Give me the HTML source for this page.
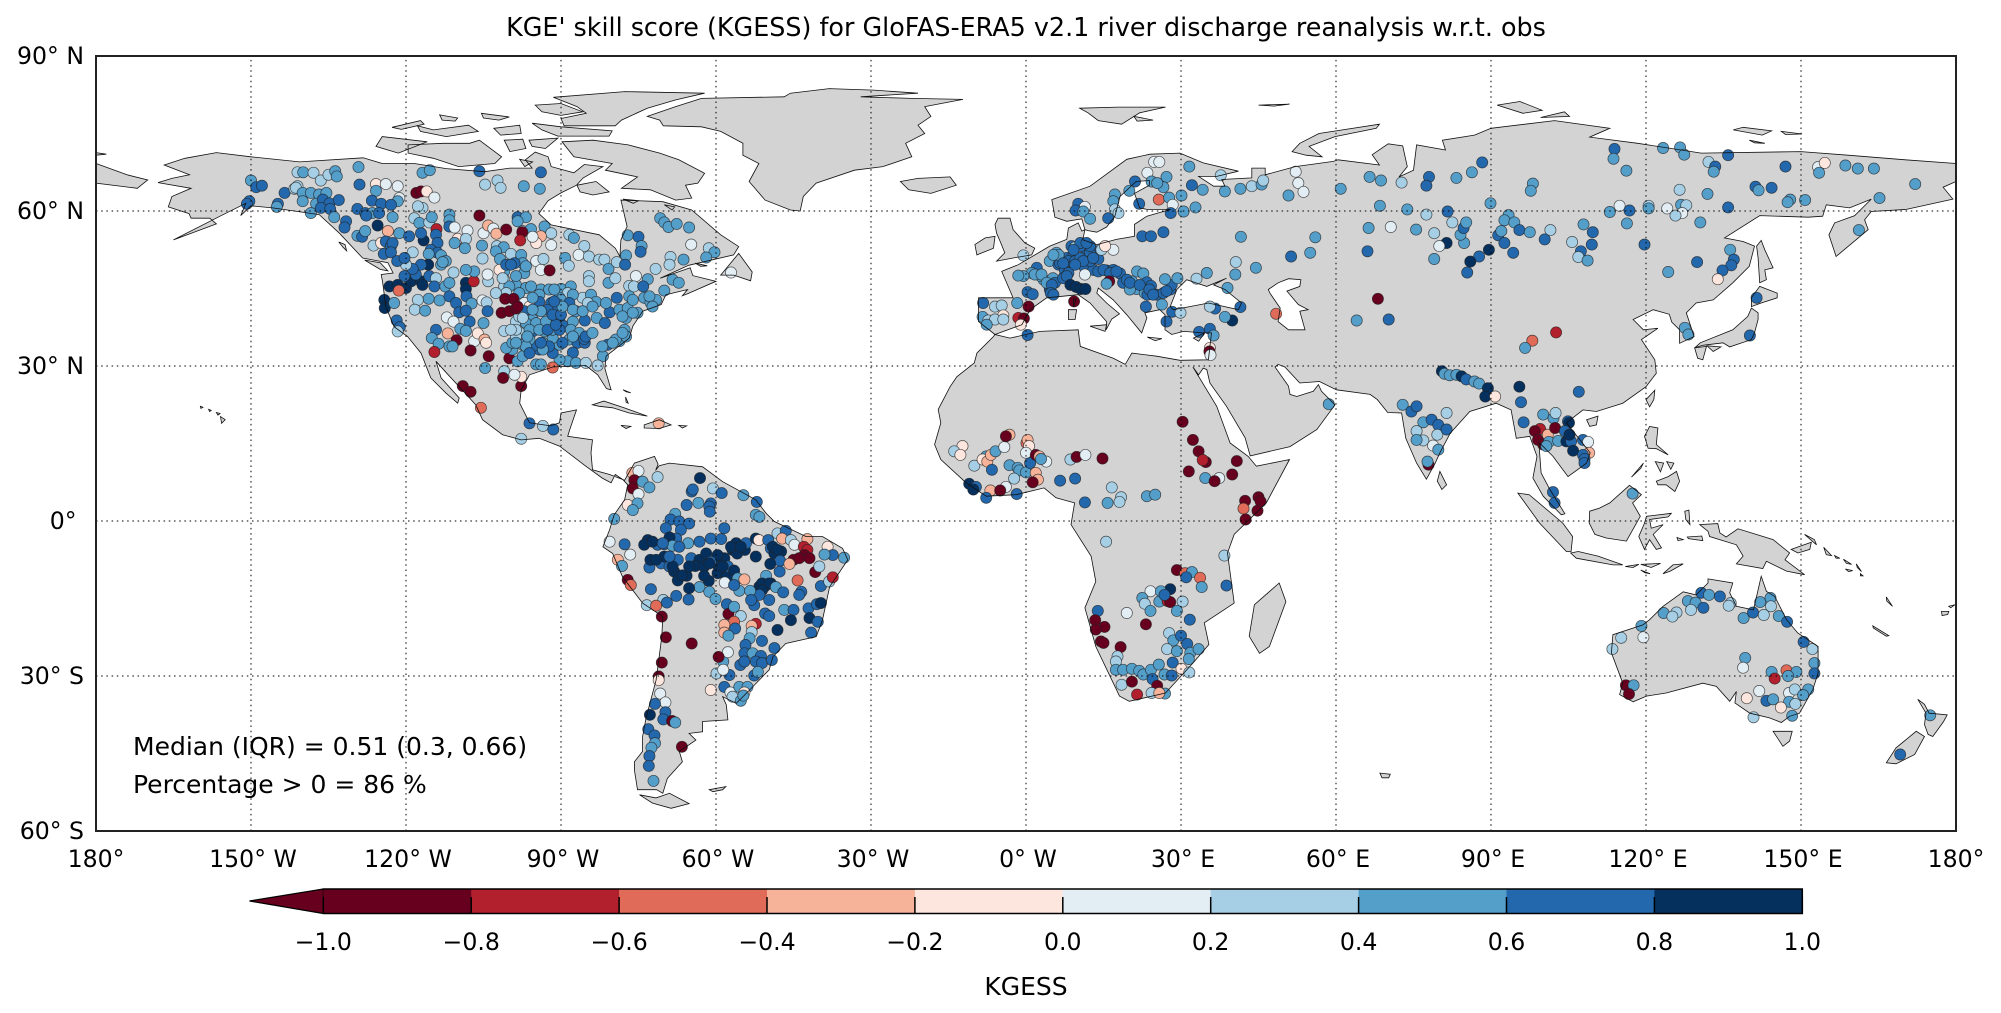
<!DOCTYPE html>
<html lang="en"><head><meta charset="utf-8"><title>KGESS map</title>
<style>html,body{margin:0;padding:0;background:#fff}svg{display:block}text{font-family:"DejaVu Sans","Liberation Sans",sans-serif;fill:#000}</style>
</head><body>
<svg id="chart" xmlns="http://www.w3.org/2000/svg" width="2001" height="1013" viewBox="0 0 2001 1013">
<rect width="2001" height="1013" fill="#fff"/>
<text x="1026" y="36" text-anchor="middle" font-size="25.4">KGE' skill score (KGESS) for GloFAS-ERA5 v2.1 river discharge reanalysis w.r.t. obs</text>
<g id="landFill" fill="#d3d3d3"></g>
<g id="waterFill" fill="#fff"></g>
<g id="islandFill" fill="#d3d3d3"></g>
<g id="stationsLayer"></g>
<g id="coastLayer" fill="none" stroke="#111" stroke-width="0.8"></g>
<g id="gridLayer" stroke="#000" stroke-width="1" stroke-dasharray="1.5 3.7"></g>
<rect x="96" y="56" width="1860" height="775" fill="none" stroke="#222" stroke-width="2"/>
<g id="tickLabels" font-size="23.6"></g>
<text x="133" y="755" font-size="25">Median (IQR) = 0.51 (0.3, 0.66)</text>
<text x="133" y="793" font-size="25">Percentage &gt; 0 = 86 %</text>
<g id="colorbar"></g>
<text x="1026" y="995" text-anchor="middle" font-size="25">KGESS</text>
</svg>
<script>
const lonTicks=[-180,-150,-120,-90,-60,-30,0,30,60,90,120,150,180];
const lonLabels=['180°','150° W','120° W','90° W','60° W','30° W','0° W','30° E','60° E','90° E','120° E','150° E','180°'];
const latTicks=[90,60,30,0,-30,-60];
const latLabels=['90° N','60° N','30° N','0°\u00a0','30° S','60° S'];
const cbarTicks=[-1,-0.8,-0.6,-0.4,-0.2,0,0.2,0.4,0.6,0.8,1];
const cbarLabels=['\u22121.0','\u22120.8','\u22120.6','\u22120.4','\u22120.2','0.0','0.2','0.4','0.6','0.8','1.0'];
const cbarColors=['#67001f','#b21f2d','#e06b59','#f6b39a','#fce6de','#e3eef4','#a6cfe5','#549eca','#2368ac','#05305e'];

const americas=[-165,54.4,-156.7,57.5,-158,58.6,-161.6,58.6,-162,59.5,-166,60.8,-165.3,62.8,-161.6,64.4,-168,65.5,-165.3,66.3,-161.9,67,-166.8,68.9,-162.8,70.2,-156.7,71.3,-150,70.5,-140.6,69.5,-128.3,70.3,-124.6,69.2,-118.4,69.2,-112.2,68.2,-104.8,67.6,-99.9,68.3,-95.6,68.3,-96.9,69.9,-95,71.4,-92.5,70.5,-91.9,68.6,-87.5,67.4,-85.5,69,-81.9,68.6,-85.7,66.4,-87,65,-90,63.5,-92.5,62,-94.3,59.5,-91.9,57.3,-82.6,55.4,-79.5,52.8,-78.6,51.2,-78.4,54.4,-77.2,57,-78.4,62.1,-70.3,61.8,-64.7,60.2,-59.1,55.4,-55.6,53.1,-56.6,51.5,-65.3,49.5,-70.8,47,-65,49,-64.5,47.5,-60,46.4,-65.5,44,-66.5,43.6,-65.5,44.8,-69.7,43.8,-70.6,41.9,-74.2,40.6,-76.1,37.7,-76.8,35.4,-81.3,31.9,-81.5,29.5,-80.3,25.4,-81.2,25.6,-82.9,28.3,-85.2,30.1,-91.6,29.8,-96.1,28.3,-97.7,25.4,-98,22.8,-96.1,19,-92,18.4,-90.3,19,-90,20.9,-87,21.5,-88.3,17.7,-88.7,16.4,-83.9,15.7,-84.2,13.2,-83.9,9.9,-80.6,9,-77.7,7.9,-75.8,11.2,-71.9,12.5,-71.2,11,-71.7,9.8,-71,10.7,-69,11.2,-62.6,10.5,-58.7,7.6,-52.3,4.1,-50.3,1.5,-48.7,-.1,-42.6,-3,-39.4,-3,-35.5,-5.3,-34.5,-7.5,-38,-12.7,-39.4,-19.2,-40.6,-22.4,-46.5,-23.7,-49,-26.3,-49.7,-28.8,-53.5,-32.7,-56.1,-35.3,-58.7,-34,-58,-35.6,-57.7,-38.5,-62.6,-38.8,-62.6,-40.8,-65.2,-41.1,-63.9,-42.4,-67.1,-44.6,-66.5,-46.6,-69.4,-49.8,-70.3,-52.7,-71.5,-52,-75.2,-52,-75.8,-48.2,-75.8,-46.6,-74.2,-44.6,-74.2,-41.7,-73.5,-37.9,-71.6,-30.8,-70.5,-22.4,-70.3,-18.5,-74.2,-15.9,-78.1,-10.8,-80,-6.3,-81.9,-5,-80.6,-1.7,-79.7,1.2,-77.7,4.1,-77.1,7,-78,8,-79.5,9,-80.3,7.4,-82,8.3,-85.2,10.6,-90.3,14.5,-94.2,16,-97.7,15.7,-101.3,16.7,-105.2,19.6,-106.5,22.5,-109.7,26,-112.3,28.8,-114.2,30.9,-113.2,27.7,-109.7,23.8,-110,22.8,-112.3,24.8,-115.2,27.7,-117.1,32.5,-119.7,35.7,-122.3,37.6,-123.9,41.5,-124.5,46,-124.8,47.7,-122.5,48,-123.5,50,-128.4,50.9,-132.9,55.7,-136.8,59.3,-145.8,60.6,-150,61,-152,59.1,-151,61.5,-156,59];
const afroEurasia=[-6,36.1,-9.2,38.6,-9.2,43.2,-2.5,43.2,-4.7,48.3,-1.5,49.6,4.6,53.2,7.9,54.5,8.2,56.7,10.1,57.7,10.8,56.1,11.4,56.4,10.8,58.5,7.9,58,5.6,58.8,5,62.2,12.4,64.8,19.5,70,24,71,29.8,71.2,34.3,69.3,41.1,67.7,36.9,66.7,33.4,66.7,36.3,64.8,38.5,64.8,37.9,66.1,43.7,66.4,43.7,68.3,46.3,68.3,46.3,67,52.1,68.6,59.5,69.6,60.4,69.9,68.4,68.9,67,70.9,70.1,73,72.9,72.6,73.8,68.6,72.2,66.6,75,67.9,75.6,72.8,81.2,71.8,80.6,73.7,86.8,74.7,90,76,102.3,77.5,113,76,109.1,74.3,118.4,73.1,130.7,71.2,150,71.5,159.1,70.8,170.2,69.9,180,69.2,180,65.7,177.5,64.6,179.4,62.3,170.4,60.3,163.6,59.9,162.3,58.3,163,56.4,156.8,51.2,155.4,55.4,156.5,57.7,160.4,59.1,163.6,62.3,159.4,60.6,154.9,61.2,154.2,59,151.4,58.8,142,59.1,135.2,54.8,138.8,54.1,141,53.2,140,49.3,136.8,46.1,133,42.8,129.7,42.2,127.8,40.3,129.3,35.7,126.5,34.4,126.5,37,125,38.5,124.5,40,121.4,40.9,117.5,39,119.5,37,122.3,37.3,119.1,35.1,121.7,31.2,122,28.6,120,26,115.5,22.8,110.4,21.2,107.8,21.5,104.6,19,109.2,13.2,108.5,11.2,104.9,8.6,102,12.5,99.4,15.1,99.4,13.2,99.7,9.3,101.4,6.1,104.3,1.4,103.6,1.2,100.1,4.8,98.1,8.3,98.9,12.5,97.5,16.4,94.9,16,93.9,21.5,91,22.8,85.9,21.2,82.1,17,80.1,13.2,79.2,11.2,77.5,8.1,75.6,11.2,73.5,16,72.7,20.9,70,21,68,23.5,66.6,24.5,60.1,25.4,56.8,27,53,26.7,50.1,29.8,48.8,30.3,48.2,29.8,50.8,26.1,51.1,24.5,52.4,24.1,55.6,25.1,56.6,26.4,57.2,25.1,59.8,22.5,56.3,17.7,51.1,14.4,43.4,12.6,42.4,16.1,38.8,22.2,35.6,26.7,35,29.3,34.3,29.6,33.4,28.3,32.3,29.8,36.9,22.2,39.5,15.1,43,12.5,44.6,10.6,51,11.9,46.5,3.5,40.3,-2.6,39,-6.2,40.3,-15.9,34.5,-19.7,35.4,-23.9,32.3,-27.5,27,-33.3,20,-34.9,18.1,-33.9,13.5,-24.3,11.4,-16.8,13.5,-11.7,12.6,-6.8,8.7,-.7,9.4,3.5,5.8,4.5,3.5,6.4,-1.9,5.1,-7.7,4.8,-11.6,7.4,-16.5,11.9,-17.7,14.8,-16.5,19,-17,21.6,-14.7,26,-13.4,27.9,-10,30.6,-9.5,32.5,-6.3,35.7];
const australia=[132,-11.2,136.8,-12,136.2,-13.9,137.5,-16.5,140.8,-17.2,142.3,-10.7,143.3,-13.6,144.9,-14.6,147.2,-19.1,149.4,-21.7,153.3,-24.3,153.3,-29.4,152.3,-32.6,149.7,-37.2,147.8,-37.8,146.2,-39,143.9,-38.1,140.1,-37.2,137.2,-35.2,137.5,-33,136.2,-34.9,133.6,-32,131,-31.4,123.9,-33.3,120.1,-33.9,117.5,-35,114.9,-33.6,115.5,-31.4,113.3,-25.5,113.6,-22,119.4,-20.1,120.7,-19.1,123.3,-16.5,127.2,-13.7,129.7,-14.3,132,-12];
const greenland=[-73.3,78.3,-67.8,80.2,-62.8,81.8,-46.8,82.1,-45.6,82.8,-38.1,83.7,-29.5,83.4,-20.9,82.8,-32,82.1,-22.1,81.8,-12.2,81.6,-19.6,80.2,-18.4,78.3,-20.9,76.6,-19.6,75,-23.3,73.1,-22.1,70.5,-27.7,68.6,-33.2,67.9,-40.6,65.4,-43.1,62.8,-43.7,60,-45.6,60.2,-50.5,62.1,-53.6,65.7,-51.7,69.2,-54.8,70.8,-54.8,73.1,-59.1,75.4,-62.8,76.3,-70.2,76.5,-70.9,77.6];

const mediterranean=[-6,36.1,-.8,38,.8,40.9,4,43.2,10.1,43.8,12.4,42.2,15.6,38.6,15.5,37,16.6,39.1,18.1,40.1,15.6,42.2,13.7,44.1,14,45.1,16.9,42.8,19.5,39.9,22.4,36.4,23.4,39.3,23,40.3,25.9,40.9,26.9,39.9,26.9,37,28.2,36.1,30.5,36.7,34.3,36.4,35.9,36.4,35.3,31.2,29.8,31.1,25.3,31.9,20.5,32.5,19.2,30.3,16.9,31.5,10.5,33.8,10.1,37,2.7,36.7,-3.1,35.4];
const blackSea=[27.9,41.5,29.2,44.8,31.1,46.7,33.4,45.9,35,45.4,38.8,47,36.3,45.7,38.5,44.8,41.7,42.2,41.1,40.9,35.3,42.2,31.7,41.5,28.5,40.9];
const caspianSea=[46.9,44.8,48.8,46.1,50.8,46.9,53.2,46.7,53,45.4,50.5,44.5,52.7,41.9,54.6,40.9,53,40.6,54,37,50.8,37,48.8,38.6,49.2,41.2,47.2,44.1];
const balticSea=[11.4,56.4,11,54.4,13.7,53.5,17.5,54.5,21,55.1,21,57.4,23.4,59,28,60.3,23.4,60.3,22,60.6,21,63.4,23.9,65,23.9,65.9,21.3,65.7,18.2,62.8,17.2,59,15.6,56.9,13.7,55.9,12,56.2];

const islandBaffin=[-89.8,73.4,-83.8,73.7,-77,72.8,-70.9,71.2,-67.2,69.9,-62.2,67.3,-63.5,65.4,-65.9,65,-64.7,62.5,-67.8,62.1,-72.7,64.1,-78.3,64.4,-75.2,66.6,-81.4,67.9,-80.1,69.2,-87.5,70.5];
const islandVictoria=[-119.6,72.8,-112.8,73.1,-107.7,73.1,-105.8,73.7,-101.5,70.5,-102.8,69.2,-109.8,68.6,-114.7,70.2,-119.6,71.2];
const islandEllesmere=[-91.5,82,-77.7,83.1,-62.2,82.8,-67.8,81.5,-73.3,79.9,-78.3,77.6,-79.5,76.5,-89.4,76.5,-90,77.9,-85.1,78.9,-86.9,80.2];
const arcticMinor=[[-125.8,72.5,-124.6,74.4,-115.9,73.4,-121.5,71.2],[-86.9,65,-83.2,65.7,-80.7,63.7,-83.8,63.1,-86.3,63.7],[-101,73.7,-97.4,73.9,-96.8,72.1,-99.9,71.5],[-96.2,73.7,-90.6,74.1,-93,72.1,-95.6,72.5],[-117.8,76.5,-114.7,75.7,-107.9,76.6,-106,75.4,-112.2,74.4,-117.2,75.4],[-122.7,76.2,-117.2,77.5,-116.5,76.8,-120.9,75.8],[-103,76,-98,76.6,-97.7,75,-101.7,74.7],[-95.6,77,-90,76.3,-80.1,75.5,-80.7,74.5,-90.6,74.5,-93.7,75.7],[-95,80.5,-90,80.8,-85.8,79.2,-90,78.5,-93.7,79.2],[-105.4,78.9,-100,78.2,-102,77.6,-105,78],[-113.5,78.6,-110,78,-110.5,77.4,-113,77.6],[-98,70,-95.5,69.5,-97,68.6],[-78,62.3,-75,62,-76,61.5],[-70,61.2,-68,60.8,-68.5,60.2]];
const atlanticIslands=[[-24.3,65.7,-20.9,66.3,-14.7,66.6,-13.5,65,-18.4,63.4,-22.7,64.1],[-59.1,47.6,-55.6,51.8,-53,48.2,-53.3,46.5,-56.6,47.6],[-64,49.9,-61.7,49.4,-63,49.3],[-83.9,22.5,-81.7,23.2,-77.8,21.9,-73.3,20.3,-76.8,20.9,-80,21.9,-82.6,22.2],[-73.9,18.6,-71,19.6,-68.7,18.6,-71,17.9,-73.9,18],[-78.4,18.5,-76.5,18.3,-77.4,17.9],[-67.2,18.5,-65.7,18.4,-66.5,18],[-78,25.4,-76.5,24.8,-77.4,25],[-77.5,24,-77,22.8,-77.4,23],[-159.8,22.2,-159.3,22,-159.7,21.8],[-158.2,21.6,-157.7,21.4,-158,21.2],[-156.7,21,-156,20.8,-156.4,20.5],[-155.9,20.2,-155,19.6,-155.7,18.9],[-74.8,-53,-71.6,-53.6,-69,-52.7,-65.2,-54.7,-68.7,-55.6,-72.3,-54.6],[-61.3,-52,-58.1,-51.4,-58.7,-52,-60.6,-52.4],[68.5,-48.8,70.5,-49,70.2,-49.7,68.9,-49.7]];
const europeIslands=[[-6,57.4,-5.4,58.6,-3.1,58.6,-2.5,56.4,-.2,53.8,1.7,52.8,1.1,51.5,-2.5,50.9,-5.7,50.3,-4.1,51.9,-5,54.1,-5.7,55.7],[-9.9,53.5,-7.9,54.8,-6,55.1,-6.3,52.8,-9.5,51.5],[8.2,40.9,9.8,40.9,9.5,39,8.2,39],[9.2,43,9.7,42.9,9.2,41.5],[12.4,37.7,15.6,38,15.3,36.7],[23.5,35.6,26.3,35.3,25,34.9],[32.4,35.4,34.6,36.4,33.4,34.8],[10.4,79.9,17.8,80.1,27,80.1,22,79,18.5,76.8,14,77.5,12,79],[20.9,78.3,24.6,77.6,21.5,77.4],[45,80.5,51,80.7,48,80.3],[51.5,71.5,53,73.1,56.7,75,68.4,76.8,67.8,76,59.8,74.4,54.8,72.5,57.3,70.5,54.2,70.8],[91.2,80.5,95.6,81.2,99.9,79.5,96.2,78.9],[99.6,78.1,104.2,79.2,105.2,78.3],[136.9,75.7,138.8,76.2,144.3,75.5,142.5,74.7],[146.2,75.4,150.2,74.9,147,74.8],[140,73.7,143,73.1,141,73.2],[-180,69.2,-174,67,-170,66,-172,64.4,-180,65.4],[-180,71.3,-178,71,-180,70.8]];
const asiaIslands=[[142.3,54.3,143,52.5,144.6,49,143,48.6,143.3,46.7,142,46.1,141.7,50.9,141.4,53.2],[140.4,43.2,142,45.4,145.4,44.1,145.4,43.2,142.3,42.2,140.4,41.5],[140.4,41.2,141.7,40.3,141.7,39,141,36.4,140.4,35.1,136.2,33.7,134.9,34.5,131,34,129.4,33.5,130.5,34.5,136.8,37,139.7,39.6],[129.4,33.5,131.7,33.8,131,31.2,130,31.5],[131.8,33.9,134.5,33.7,133,32.8],[121.7,25.3,120,23.5,120.7,22.1,121.5,23.5],[108.5,19.6,110.7,20.3,110.4,18.6,109.1,18.3],[80.1,9.6,81.4,7,80.5,6.1,79.6,7.7],[120.7,18.3,122.3,18,122,14.8,124.3,12.8,122,14,120.4,14.1,119.7,16.4],[122,7.7,124.3,8.6,125.9,9.6,126.5,7.7,125.6,5.7,123.9,7,122.3,7],[121.8,11.5,123.4,11.2,122.8,9.5],[124,11.5,125.4,11.2,124.8,10],[117.2,8.5,119.5,11.2,119,10.2]];
const indonesiaIslands=[[116.8,6.9,119.1,5.1,117.4,3.5,118.9,.9,116.2,-3.9,112.3,-3.3,110.1,-2.6,109,-.4,109.1,1.9,111,2.5,113,3.5],[95.2,5.4,97.4,5.1,103.9,-.4,105.8,-3,105.5,-5.9,104.6,-5.9,99.4,-.4],[105.4,-6.2,106.9,-5.9,110.7,-6.8,115.5,-8.5,113.6,-8.5,106.5,-7.2],[116,-8.8,118.6,-8.4,117.5,-9],[119,-8.4,122.8,-8.2,121,-9],[123.3,-10.2,125.2,-8.5,127.2,-8.3,124.7,-9.7],[119,-9.5,120.8,-10.2,119.8,-10],[120.1,.9,124.9,1.5,124.3,.8,120.7,.3,121,-1.4,123.3,-.7,121.4,-2.6,123,-5.2,122,-5.5,120.7,-3.6,119.7,-5.5,118.6,-3,119.7,-.4],[127.5,1.9,128.3,2.1,128.5,-.7,127.7,.3],[128,-3.1,130.8,-2.9,131,-3.8,128.2,-3.4],[126,-3.2,127.2,-3.6,126.2,-3.8],[130.4,-.7,133.9,-.5,134.3,-2.3,135.5,-3.1,137.8,-1.5,144.6,-3.6,147.8,-6.2,146.9,-7.5,150.7,-10.4,147.2,-9.7,143.3,-7.8,142.6,-9.2,137.5,-8.3,138.8,-6.8,137.5,-4.6,132.3,-3,132,-2],[148.1,-5.5,152,-4.1,151.7,-5.5,149.4,-6.2],[150.7,-2.6,153,-4.6,152.6,-3.6],[154.4,-5.1,155.9,-6.7,154.9,-6.5],[156.5,-6.7,157.5,-7.2,156.8,-7.2],[158.2,-7.4,159.8,-8.4,158.8,-8.2],[160.7,-8.3,161.7,-9.8,160.9,-9],[158.6,-9.3,160,-9.6,159.2,-9.8],[161.5,-10.2,162,-10.6,161.5,-10.6],[166.5,-14.7,167.7,-16.5,166.6,-15.5],[163.9,-20.3,167,-22.2,166.5,-22.3,164,-20.7],[177.2,-17.5,178.6,-17.5,178.4,-18.1,177.3,-18.3],[178.6,-16.5,179.8,-16.2,179,-16.8],[144.6,-40.7,148.3,-40.7,147.8,-42.6,146.5,-43.6],[172.6,-34.5,173.9,-35.5,174.8,-37.2,178.3,-37.5,177.6,-38.8,175.5,-41.7,174.6,-41.3,173.9,-39.4,174.2,-37.2],[166.5,-46.8,168.4,-43.9,172.3,-40.7,173.9,-41.7,172,-45.2,168.4,-47],[49,-12,50.3,-15.6,47.1,-24.3,45.2,-25.6,43.2,-22.3,44.2,-16.2],[-133,54,-131.8,53.5,-131.5,52.3,-132.2,53],[-128,50.5,-125,50,-123.5,48.4,-125,48.7]];

const stationsAlaskaYukon=[-150,65.9,.5,-149,64.6,.7,-147.9,64.9,.7,-150.3,61.9,.7,-150.8,61.4,.7,-143.5,63.5,.7,-144.8,61.4,.7,-145,60.8,.5,-141.6,64.3,.3,-141,64.8,.3,-141,67.5,.3,-139.9,67.5,.5,-137.9,67.4,.3,-136.5,65.9,.3,-135,67,.3,-133.7,67.7,.5,-133.4,66.7,.5,-129.2,68.5,.5,-129,65.1,.7,-125.8,65.2,-.1,-123.9,65.2,.1,-121.6,64.8,.1,-125.8,63.9,.5,-118,63.5,-1,-117.1,63.8,-1,-116,63.8,-.1,-114.5,62.6,.1,-121.3,62.5,.1,-121.6,61.9,.5,-126.6,62,.7,-124.8,61.4,.7,-122.9,61.2,.7,-116.8,67.4,.5,-115.4,67.9,.5,-105.8,67.7,.7,-93.9,67.5,.7,-104.7,65.1,.3,-102.3,65.9,.3,-101.7,64.5,.3,-97.2,64.8,.5,-94.1,64.3,.5,-141.3,64.5,.3,-140,63.5,.5,-140,61.9,.5,-138.4,63.5,.5,-136.8,63.2,.5,-135.4,63.5,.5,-137.4,61.4,.5,-136.1,62.2,.7,-134.8,61.5,.7,-133,62.1,.7,-136.5,60.6,.7,-134.7,60.4,.7,-138.4,59.6,.5,-133.9,58.8,.5,-131.6,58,.7,-131.9,56.8,.7,-129.4,60.4,.7,-127.9,59.6,.7,-126.5,59.6,.5,-125.2,59.6,.7,-122.6,58.8,.5,-127.7,59.1,.7,-125.5,57.2,.9,-123.5,56.1,-.3,-129.4,55.2,.5,-128.5,55,.7,-127.9,56.1,.5,-126.3,53.3,.3,-124.8,53.8,-.1];
const stationsCanada=[-123.9,54.1,.7,-122.9,53.2,.7,-122.6,53.8,.7,-124.3,51.7,.7,-122.9,52,.7,-121.3,55.7,.5,-119.4,55.1,.7,-118.4,58.6,.3,-116.8,60.6,.3,-117.7,60.9,.3,-117.4,57.7,.5,-115.5,57.8,.3,-115,58.8,.5,-111.6,59.3,.5,-111.6,58.2,.5,-111.6,57,.7,-110.6,56.8,.1,-108.1,56.2,.1,-114.1,56.5,-.7,-116.6,54.3,.9,-117.1,55.7,.7,-114.2,55.4,.7,-113.9,53.8,.7,-115.2,52.5,.7,-118.7,52,.3,-113.9,51.9,.7,-115.6,51.7,.5,-113.2,51.4,.5,-112.3,50.3,.5,-113.2,49.6,.5,-110,54.6,-.1,-108.4,54.6,.3,-110.6,53.8,.5,-108.6,52.8,.5,-105,55.7,.1,-105.3,53.3,.5,-105.2,50.8,.3,-102.4,53.2,.3,-101.1,53,.5,-102.6,52.2,.5,-101.8,50.7,.5,-104.1,57.2,-.3,-103.1,56.6,.1,-102.5,55.6,-.3,-100.6,56.4,-1,-105.8,59.1,-1,-98.4,58.8,.7,-96.8,58.8,.5,-98.4,58,.5,-97.4,56.1,.3,-95.8,56.5,.5,-93.2,57,.5,-91.9,55.7,.3,-97.5,55.9,-1,-93.9,55.1,-.3,-94.8,53.8,-.1,-95.5,55,.1,-91.9,53.4,.1,-97.9,54.3,-.8,-99.7,51.7,.3,-97.7,51.5,.5,-94.8,50.3,.1,-93.4,50.7,.3,-93.9,48.6,.1,-92.2,48.5,-1,-88.4,55.4,.3,-87.5,54.8,.5,-85.5,53.2,.3,-86.6,51.5,.1,-84.6,51.2,.3,-89.2,50.9,.5,-88.5,49.4,.3,-82.6,50.6,.3,-81.6,50.6,.3,-80.8,48.8,.5,-79.2,50.1,.3,-77.4,51.4,.5,-77.6,49.6,.7,-77.1,55.3,.5,-75,55,.7,-74.4,53.2,.5,-74.6,52.1,.7,-70.8,58.6,.5,-70,57.8,.5,-69.2,56.9,.5,-67.6,57.5,.5,-65.2,56.8,.5,-64.8,53.5,.1,-61.4,52.8,.3,-60.3,52,.5,-61.9,51,.5,-68.8,51.1,.3,-66.3,50.6,.5,-69,49.6,.3,-71.7,48.8,.3,-75.5,47.4,.1,-73.2,46.8,.5,-84.6,47.4,.3,-84.6,46.4,.3,-80.8,46.1,.5,-79.5,47,.3,-76.8,45.5,.3,-75.9,45.4,.3,-74.1,45.4,.7,-76.8,43.5,.5,-79.2,43.2,.7,-85.8,43.2,.3,-84.2,43.8,.5,-83.2,42.4,.5,-84.8,42.2,.3,-73.9,43.2,.5,-72.7,42.3,.5,-71.6,42.8,.5,-70,44.6,.5,-68.4,46.7,.5,-67.2,46.1,.5,-57.1,48.1,.1];
const stationsUsWest=[-123.2,45.4,.9,-121.6,45.7,.9,-120,45.1,.9,-119,46.4,.9,-117.1,46.4,.9,-116.8,45.7,.9,-121.4,44.6,-.5,-120.3,47.4,.7,-118.1,47.7,.7,-115.5,47.4,.7,-114.2,47,.3,-114.5,45.4,.7,-112.4,45.4,.5,-111.6,46.1,.5,-108.4,46.1,.9,-108.4,44.9,.9,-108.3,43.5,.7,-106.9,46.4,-.8,-104.1,46.4,.3,-104.2,47.7,.1,-106.8,48.3,.5,-108.4,48.6,.5,-110.8,48.1,.3,-112.9,50.1,.5,-115.7,49.6,.9,-117.1,49.6,.7,-118.7,48.8,.7,-120,49.6,.3,-121.7,50.3,.7,-120.3,50.9,.7,-124.2,42.8,.9,-124.1,41.2,.9,-122.3,42.2,.5,-117.7,42.8,.3,-115.6,43,.5,-118.3,40.9,.3,-116.3,40.7,.5,-113.5,42.7,.5,-111.6,43.5,.7,-110.3,42.2,.7,-107.3,42.1,.5,-105.2,42.7,.1,-104.4,42.3,.3,-104.2,40.6,.7,-105,38.3,.5,-109.7,40.4,.7,-108.4,40.7,.7,-107.7,38.6,.7,-112.1,39.4,.1,-110.8,38.6,.1,-109.5,37.2,.5,-108.4,36.8,.5,-114.2,37,.7,-111.9,36.3,-.3,-110.2,35,-1,-115,35.4,.5,-113.7,34.3,.5,-111.6,33.8,.5,-111,33.8,.5,-114.5,32.7,-.8,-106.8,34.8,.1,-106.1,36.3,-.1,-104.8,35.1,-.3,-104.5,34.5,-.1,-107.5,33,-1,-104,31.9,-1,-100,31.5,-1,-104.7,29.6,.5,-101,29,.3,-101.2,27.7,-1,-97.7,26.1,-1,-97.7,27.9,-.1,-99,28.3,.1,-109,26.1,-1,-107.5,25,-1,-105.5,21.9,-.5,-121.8,38.8,.7,-121.2,37.5,.7,-121.6,36.7,.3];
const stationsUsCentral=[-101,48.3,.5,-101.9,48.6,-.1,-101,46.7,.3,-101,45.4,.3,-98.7,45.7,.5,-96.8,45.1,.5,-93.9,44.8,.5,-92.3,44.8,.5,-90,44.9,.5,-88.1,45.4,.5,-88.7,44.1,.3,-90.3,43.2,.5,-97.4,49.9,.5,-97.1,48,.5,-99,49.9,.7,-100.6,49.6,.7,-100,45.4,.5,-98.1,44.1,.5,-95.8,45.4,.5,-94.2,43.8,.5,-91.3,44.8,.5,-87.7,43.8,.5,-94.2,42.4,.7,-91.9,42.2,.7,-91.3,40.6,.7,-92.6,40.9,.7,-90.3,38.6,.7,-89.4,37.7,.7,-87.7,38.6,.5,-87.1,40.6,.5,-85.4,38.8,.7,-88.1,37,.5,-86.5,36.4,.5,-88.4,35.1,.5,-86.8,34.5,.7,-85.4,34.5,.7,-85.5,35.2,.7,-87.7,32.6,.7,-88.7,30.9,.5,-87.1,30.6,.5,-85.2,30.6,.3,-90.3,31.2,.5,-91.6,32.5,.7,-90.3,34.1,.5,-91.6,35.4,.5,-94.2,33.2,.7,-95.5,33.8,.7,-97.4,34.1,.5,-99.4,33.2,.5,-100.6,33.5,.5,-98.4,30.9,.5,-97.4,31.9,.5,-94.8,30.3,.5,-93.9,30.3,.5,-93.2,36.7,.5,-95.5,36.7,.7,-95.5,39,.5,-98.7,38.6,.3,-97.7,36.3,.3,-99.4,34.5,.5,-96.8,38.3,.5,-94.8,38.3,.5,-92.9,38.6,.5,-97.1,42.2,.1,-96.1,41.5,-.1,-95.5,43.2,.5,-90,42.8,.5,-88.4,42.2,.7,-97.1,40.6,.7,-101,36.8,.3,-98.1,39.6,.3,-96.1,37,.5,-94.2,37,.5,-91.6,37,.5,-90.3,37,.7,-96.1,35.1,.5,-98.7,35.7,.3,-93.5,34.5,.5,-83.1,39.3,.5,-81.5,38.3,.7,-80.6,40.4,.7,-78.7,40.9,.5,-77.1,41.2,.5,-75.2,40.3,.5,-77.4,39.3,.5,-77.7,37,.5,-78.7,34.8,.5,-81,34.1,.7,-81.9,31.9,.5,-77.4,35.7,.5,-82.9,30.1,.3,-91.6,29.7,-.5];
const stationsUsDense=[-78.1,39.6,.5,-76.1,40.3,.5,-79.4,35.1,.5,-78.1,36.4,.5,-80,34.5,.5,-82,33.8,.5,-85.2,35.7,.7,-83.9,36.4,.5,-87.7,35.7,.5,-89.7,34.5,.7,-92.3,33.8,.7,-93.5,33.2,.5,-96.8,33.8,.5,-98.7,34.5,.5,-96.1,32.5,.7,-93.9,34.5,.7,-92.6,37,.7,-91,38,.7,-91.6,39.9,.7,-90,39.9,.7,-89.7,41.5,.5,-91.3,42.5,.7,-93.9,40.6,.5,-95.5,40.9,.5,-97.4,39.3,.3,-98.7,37,.3,-99.7,37,.3,-96.5,35.7,.5,-87.7,40.9,.5,-85.8,40.6,.5,-83.9,41.5,.5,-81.3,42.2,.5,-101.3,47,.3,-98.7,47.4,.5,-96.8,49.3,.5,-99.7,49.6,.7,-100.6,44.1,.3,-102.6,44.1,.3,-76.1,42.8,.5,-72.9,43.5,.5,-72.3,41.5,.5,-100.8,43,-1,-99.2,43,-1,-101.5,40.3,-1,-100,40.6,-1,-98.7,41.1,-1,-98.4,41.5,-1,-96.1,18.9,.7,-93.5,18.4,.3,-91.5,17.7,.7,-97.7,15.9,.3,-71.1,18.9,-.3,-76.2,9.3,-.3];
const stationsSouthAmericaNorth=[-75,9.7,.1,-71.3,8.5,.3,-75.8,7.9,-1,-74.2,7.6,.5,-76.1,6.3,-1,-75,5.2,.1,-72.9,6.5,.5,-77.1,3.1,-.1,-75.2,3.4,.5,-76.1,2.1,.5,-79.7,.4,.5,-63.1,8.3,.9,-60.6,6.3,.3,-58.9,5.4,.7,-64.7,5.7,.7,-64.5,6.1,.7,-65.7,3.1,.7,-63.4,3.5,.5,-61,3.4,.7,-61.3,2.8,.7,-61.2,1.8,.7,-54.7,5,.5,-52.1,3.7,.7,-52.3,1.2,.5,-51.6,.8,.5,-67.9,1.4,.5,-68.8,.3,.7,-67.1,-.1,.7,-65.2,-.5,.7,-69.7,-1.4,.7,-66.8,-1.7,.7,-58.4,-1.4,.7,-61,-3.4,.7,-59,-3.5,.7,-63.2,-4,.7,-65.4,-4.3,.5,-67.7,-3.4,.7,-69,-3.2,.9,-73.2,-3.7,.9,-73.9,-4.6,.9,-77.7,-4.5,.7,-76.6,-6.5,.1,-80.6,-4,.1,-79,-7.5,-.3,-78.2,-8.7,.5,-77.1,-11.4,-1,-76.5,-12.4,-.5,-72.6,-13.2,.7,-72.9,-9,.7,-72.7,-7.5,.9,-70.6,-8.2,.7,-71.3,-4.6,.7,-70,-4.5,.7,-68.4,-4.8,.5,-67.1,-5,.7,-70,-6.9,.9,-69,-8.8,.7,-67.4,-7.5,.7,-68.1,-9.8,.9,-67.4,-11.5,.9,-65.7,-10.6,.9,-64.8,-7.2,.7,-63.2,-7.5,.9,-61.9,-6.3,.9,-64,-8.7,.9,-62.3,-8.8,.9,-59.7,-8.5,.9,-58.4,-7.2,.9,-59.7,-6.6,.9,-61,-7.9,.7,-59.7,-10.1,.9,-57.9,-10.8,.9,-61.4,-11.6,.9,-62.3,-10.6,.9,-57.7,-8.8,.7,-56.1,-4.3,.9,-56.8,-5.6,.9,-54.4,-5.6,.9,-55.9,-6.3,.9,-54.2,-4.3,.7,-52.3,-3.4,.9,-51.7,-3.7,-.1,-52.3,-6.9,.9,-49.9,-3.7,.7,-49.4,-5.3,.7,-48.7,-6.3,.9,-47.4,-5.9,.9,-47.6,-7.7,.7,-49.5,-8.3,.9,-47.7,-9.8,.7,-56.5,-9.6,.9,-55.8,-11.1,.5,-54.5,-11.3,-.3,-58.3,-11.9,.1,-55.5,-13.5,.5,-56.5,-12.4,.7,-63.2,-12.8,.5,-65.2,-13,.9,-61.3,-13.7,.5,-60.1,-15.1,.5,-65.3,-15.2,.7,-67.7,-14.5,.7,-70.2,-15.3,.3,-69.5,-15.8,.7,-73.4,-16.3,.3,-71.6,-16.4,-.5,-70.5,-18.5,-1];
const stationsAmazonDense=[-71.6,-7.5,.9,-68.4,-8.8,.9,-66.5,-10.5,.9,-65.2,-8.8,.9,-61.3,-8.2,.9,-58.7,-8.8,.9,-57.1,-5,.9,-55.2,-5,.9,-50.6,-12.7,.9,-51.6,-12.7,.9,-49.4,-12.1,.9,-49,-5,.9,-48.1,-5.6,.9,-72.3,-4,.9,-70.3,-4.3,.7,-69,-6.9,.7];
const stationsSouthAmericaSouth=[-50.3,-10.6,.5,-51.1,-12.1,.9,-49.7,-12.1,.9,-48.4,-12.8,.5,-51.1,-13.4,.9,-51.6,-14.3,.7,-53.4,-13.5,.5,-52.6,-16.3,.7,-53.2,-15.3,.7,-49.7,-15.3,.7,-47,-13.8,.7,-46.8,-17.2,.5,-45,-17.2,.7,-45.5,-19.2,.9,-50.5,-17.9,.7,-49.7,-18.4,.7,-42.1,-16.9,.7,-40.5,-16.1,.7,-39.7,-15.9,.9,-41.9,-18.8,.9,-40.3,-19.5,.7,-41.6,-21.6,.7,-48.1,-2.4,.3,-46.5,-1.9,.7,-47.2,-3.4,-.3,-45.5,-3.7,.3,-44.8,-4.6,.1,-42.3,-3.5,-.3,-43,-5,-.8,-42.3,-5.6,-.8,-42.9,-6.6,-1,-45,-7.5,-1,-43.9,-7.2,-1,-41.9,-7.2,-1,-45.8,-8.3,-.3,-38.4,-5,-.1,-37.4,-6.6,.7,-39,-6.5,.5,-35.2,-7.1,.5,-40.8,-9.9,-1,-40,-8.8,.3,-44.2,-11.5,-.5,-43.5,-13.7,.7,-43.9,-14.3,.7,-39.7,-12.6,.7,-38.1,-11.7,.3,-37.4,-10.9,-.8,-57.9,-16.1,.7,-57.6,-18,-1,-55.2,-18.4,.3,-56.5,-16.6,.5,-56.5,-19.5,-.5,-58.4,-20.1,-.3,-58.4,-21.6,-.3,-56.3,-20.8,.7,-57.6,-22.2,.5,-52.3,-19.9,-.8,-53.1,-20.3,-.3,-53.1,-21.5,.3,-53.5,-22.7,.5,-48.1,-21.1,.9,-51.1,-23.2,.7,-48.7,-24.6,.7,-54.3,-24,.7,-54.5,-25.6,.7,-52.9,-25.6,.5,-51.3,-26.1,.7,-52.3,-27.2,.7,-51.1,-27.5,.7,-49.2,-26.9,.7,-55.3,-27.9,.7,-54.5,-27.2,.7,-52.6,-29.9,.7,-51.9,-29.2,.5,-57.4,-29.8,.7,-58.6,-27.2,.5,-57.7,-25.4,.1,-59.5,-26.3,-1,-59.9,-29.5,.3,-58.6,-28.8,.1,-58.4,-32.1,.7,-57.2,-33.2,.1,-56.8,-34,.3,-55.5,-32.1,.5,-53.9,-32.1,.5,-54.5,-33.2,-.1,-55.2,-34.8,.5,-54.7,-33.8,.5,-61,-32.7,-.1,-69.7,-22.5,-1,-64.7,-23.7,-1,-70.5,-27.4,-1,-71.1,-30.1,-1,-71.1,-30.8,-.1,-70.8,-33.4,.1,-69.8,-35.1,.1,-71.8,-35.4,.7,-69.8,-37,.7,-72.8,-37.5,.9,-70.2,-38.4,.7,-68.5,-38.7,-1,-67.9,-39,.5,-73.1,-40.3,.7,-71.9,-41.5,.7,-71.8,-43,.5,-72.5,-43.9,.5,-72.9,-45.5,.7,-73,-47.4,.7,-72.1,-50.3,.5,-66.6,-43.7,-1];
const stationsEurope=[24.8,69.5,.1,25.8,69.5,.1,31.6,68.6,.5,23.5,67.4,.1,27.2,66.6,.5,21.1,65.7,.7,24.3,65.7,.5,26.6,64.6,.5,25.4,65.4,.5,20,63.9,.5,17.2,63.2,.5,32.1,65,.7,34.2,64.1,.5,37.7,66.9,.3,38.5,63.8,.5,41.5,64.3,.5,43.7,64.8,.3,45.6,65.1,.5,45.9,65.9,.3,10.1,61.4,.7,11.4,60.8,.1,9.6,60.1,.7,11.1,59.9,.5,12.4,58.5,.5,15.9,58.6,.7,16.9,61.9,.5,17.2,60.3,.3,17.9,59.6,.3,21.9,61.4,.7,25.7,62.2,-.5,27.7,62.6,.5,28.4,61.2,.1,30.1,63,.5,28,59.6,.7,30.5,59.9,.5,32.8,60.7,.5,22.5,55.1,.7,24.2,55.1,.7,26.6,55.9,.7,41.6,55,.5,40.6,50.1,.3,35,48,.5,33,46.9,.3,39,45.1,.5,40.5,47.7,.5,-.5,51.4,.3,5.9,51.9,.5,4.6,50.3,.5,6.6,50.9,.5,2.1,49,.7,1.1,48,.5,-.5,47.4,.5,-1.5,47.5,.5,3.4,46.7,.5,5.2,47,.5,5.6,46.1,.7,4.6,44.8,.7,6.3,49.6,.7,7.9,50.9,.7,9.2,51.5,.7,9.8,49.9,.5,8.5,49.3,.7,7.5,47.5,.7,8.8,53.2,.7,9.5,53,.3,11.4,53.5,.7,11.7,51.5,.7,13.7,52.2,.7,14,50.7,.7,14.6,52.5,.3,16.9,52.5,.1,15.3,53.2,-.1,11.4,49,.7,13,48.6,.7,14,48.3,.7,15.6,48.5,.7,16.9,48.6,.7,18.2,47.9,.7,18.8,46.1,.7,20.5,46.4,.5,21.5,48.3,.5,22.7,47.9,.5,23.4,46.2,.7,24.2,45.5,.7,21.4,44.9,.5,20.1,44.8,.5,23,44.1,.5,23.5,43.8,.7,25.3,43.8,.7,26.6,44.1,.7,27.9,44.8,.7,28.2,45.7,.7,29.3,47,.5,26.9,46.8,.5,23.2,41.5,.7,26.3,41.9,.5];
const stationsEuropeDense=[6.6,49.9,.7,7.5,48.6,.7,8.2,50.3,.7,9.5,50.3,.7,10.5,50.9,.7,12.4,51.9,.7,12.4,50.3,.7,11.1,50.3,.7,8.2,48,.7,7.2,47,.7,7.9,47.4,.7,4.6,45.4,.7,5,44.1,.7,9.5,49.6,.7,13,50.9,.7,15,48.6,.7,16.3,48,.7,17.5,48.3,.7,19.5,46.7,.7,20.1,46.1,.7,22,45.7,.7,23.9,44.8,.7,24.6,43.8,.7,27.2,44.5,.7,6.3,51.5,.5,5.3,51.5,.5,10.6,53.2,.7,12.4,53.2,.7,10.5,53.8,.7,11.7,53.8,.7,9.2,52.5,.7,7.2,49.9,.7,2.8,47.4,.5,1.7,47.7,.5,3,47.7,.5,4,46.1,.5,5,45.7,.7,11.4,47.7,.1,8.6,45.7,.9,9.7,45.3,.9,10.6,44.9,.9,11.5,44.9,.9,4.8,44.1,.7,.3,44.3,.7,1.3,43.9,.7,5.3,43.8,.7,9.3,42.5,-1,16.1,46.4,-1,15.6,45.9,.5,-8.3,42.2,.7,-6,41.5,.3,-4.7,41.7,.3,-4.4,39.8,-.1,-1.7,42.2,.5,.5,41.5,-1,-8.4,39.5,.5,-7.3,38.8,.3,-6,39,.3,-4.4,39,.3,-7.6,38,.5,-1.5,39.3,-.8,-.4,39.2,-1,-1,38,-.1,.3,36,.7];
const stationsWestAsia=[28.3,40.5,.7,29.9,40.3,.3,27.2,38.6,.7,33.5,36.6,.7,35.6,37.2,.7,36.3,35.9,.5,35.6,33.5,-.1,35.5,32.8,-1,35.7,32.1,.1,39.9,38.8,.9,38.5,39.5,.5,36.6,41.1,.7,41.5,41.4,.7,35.6,41.5,.3,48.4,40.1,-.5,44.5,49,.5,52.2,67.6,.1,52.7,65.4,.1,53.7,63.7,.1,50.8,63,.5,60.9,64.3,.5,66.5,66.6,.5,68.7,65.9,.5,72.7,65.5,.3,78,66.6,.7,77.5,64.9,.7,56,54.9,.5,51.3,51.2,.7,55,51.9,.5,68.5,61,.5,73.8,60.3,.5,77.5,59.3,.3,81.6,59.9,.7,66.3,56.7,.5,70.6,56.9,.1,75.5,56.4,.5,79,55.7,.3,81.4,53.8,.9,80,53.2,.1,79,50.7,.5,66.1,52.2,.7,68.1,43,-1,64,38.8,.5,70.2,39,.7,58.6,22.6,.5,72.9,22.5,.5,74.6,21.2,.7,75.6,22.2,.7,76.9,19.1,.5,78.5,19.6,.7,79.8,18.6,.7,81.4,20.9,.3,75.6,17.4,.3,76.9,15.6,.3,75.6,15.7,.5,79.6,16.7,.3,78.8,14.6,.1,79.8,13.8,.5,81.4,17.7,.7,77.9,10.9,-1,77.7,11.5,.5,80.5,29,.9,81,28.5,.5,82,28.2,.5];
const stationsEastAsia=[83.3,66.4,.5,86.3,67.5,.5,88.3,69.4,.7,98.1,65.3,.5,97.7,63.9,.5,89.9,61.5,.5,93.4,59.2,.5,92.6,58.2,.5,94.5,57.8,.5,95.5,56.3,.7,97.5,55.9,.5,101.5,56.3,.3,100.4,54.5,.7,91.4,55.3,.7,92,56.1,.5,92.6,53.8,.7,94.3,51.9,.7,89.6,52.5,.9,87.7,51.2,.7,86,50.2,.9,85.4,48.1,.7,84.8,53.8,.5,84.1,55.4,.5,84.7,56.7,.7,85.2,57.8,.5,82.5,57.8,.3,113.9,72,.7,113.7,70.1,.5,116.2,67.8,.5,123.3,72.2,.5,126.6,72.3,.5,127.4,70.9,.5,135.9,70.8,.7,132.1,69.5,.3,133.4,68.6,.7,133.1,67.6,.5,147,68.6,.7,153.3,68.5,.1,154.6,69.3,-.1,153.5,67.4,.5,158.6,68.8,.5,161,68.2,.5,164.1,68.2,.5,172.1,65.2,.5,141.2,64.7,.7,141.8,64,.5,144.3,64.5,.7,147.9,62.2,.5,147.4,61.7,.5,150.8,62.1,.5,165.2,62.5,.5,161.2,56.3,.5,135.9,60.7,.7,131.9,63.3,.5,126.5,64.1,.3,114.9,61,.1,116.8,60.1,.7,113,59.8,.5,116.3,57.6,.5,120.5,61,.3,120.5,60.5,.5,124.1,60.5,.1,126.8,61.2,.5,127.8,61.1,.3,127,59.6,.1,125.7,59.1,.3,130.5,57.8,.5,107.9,57.4,.5,109.7,55.9,.7,109.5,53.5,.7,105.7,54,.3,107.4,52.2,.7,106.9,51.1,.3,108.7,50.4,.5,119.7,53.5,.7,129.9,50.1,.7,124.3,48.2,.5,136.3,52.5,.5,137,50.6,.7,136.5,49.5,.7,134.8,48.5,.7,133.9,46.8,-.1,141.4,43.2,.7,140.1,35.9,.7,127.5,37.4,.5,128.2,36.1,.5,102.6,36.5,-.8,98,34.9,-.5,96.6,33.5,.5,83.3,28.3,.5,84.3,28,.9,85.2,27.4,.7,86.8,27,.5,87.7,26.6,.5,89.4,25.7,.9,88.9,24.1,.9,90.8,24.1,-.1,95.5,26,.9,95.8,23,.7,107,25,.7,96.3,19.1,.7,100.1,20.6,.5,102.1,19.9,.5,102.5,20.9,.3,104.9,19.3,.7,105.1,19,.9,99.5,17.8,-.8,98.5,17.4,-1,99.1,15.7,-1,100.1,14.8,-1,101,16.7,-.3,102.4,18,-1,101.2,15.3,.5,100.7,14.5,.5,103,15.5,.5,104.3,17.4,.7,104.6,15.4,.9,105.5,15.4,.7,105.2,16.7,.9,105.9,13.6,.9,107.8,15.7,.7,108.8,15.3,.1,109,13.2,-.3,107.8,12.8,.7,108.1,12,.7,108.1,11.2,.7,102,5.6,.7,102.3,3.5,.7,117.4,5.3,.5];
const stationsOceania=[130.7,-13.9,.7,132.2,-14.3,.5,134.3,-14.6,.7,136.4,-15.9,.3,136,-16.4,.3,128.1,-15.5,.5,129.6,-15.8,.5,128.7,-17.2,.3,131.1,-16.8,.7,123.4,-17.8,.5,125.9,-17.7,.3,125.1,-18.5,.3,119.1,-20.3,.5,115.2,-22.6,.3,119.5,-22.5,.1,113.5,-24.8,.3,138.9,-18.8,.5,140.7,-17.7,.7,142.1,-15.7,.5,144.1,-14.9,.5,144.2,-16.5,.3,142.8,-18.2,.3,145.7,-18.4,.5,147.3,-19.5,.7,150.5,-23.4,.7,152.2,-24.8,.3,152.6,-27.5,.5,152.6,-29.5,.7,139.2,-26.5,.5,138.8,-28.4,.1,144.3,-29.2,.5,147.2,-28.9,-.5,149.1,-29.2,.5,147.5,-30,.5,144.9,-30.5,-.8,116.1,-31.8,-1,117.6,-31.8,.5,116.7,-33.5,-1,141.9,-32.9,.1,139.5,-34.3,-.1,143.3,-34.8,.7,144.6,-34.5,.5,147.7,-33.3,.1,148.8,-32.6,.3,151.4,-32.6,.5,150.4,-33.7,.5,147.7,-35,.5,148.9,-35.4,.3,146.1,-36.1,-.1,140.8,-38,.3,148.3,-37.7,.5,175,-37.6,.5,169.2,-45.2,.7];
const stationsAfrica=[-12.3,14.5,-.1,-13.9,13.5,.3,-12.7,12.8,-.1,-10,10.7,.3,-7.7,12.5,.5,-8.4,11.9,-.1,-7.5,11.5,-.3,-6.8,12.8,-.3,-5.9,13.5,.5,-4.2,14.3,.1,-3.2,16.7,-.3,-3.9,16.4,-1,-6.6,9.9,.7,-3.2,10.8,.5,-1.6,10.3,.5,-1.3,9.8,.5,0,9.4,.5,.8,11.2,.7,.1,15.1,-.5,.3,15.7,-.3,.6,14.5,-.1,0,13.2,.1,1.9,12.8,-1,2.6,12.5,-.3,3.9,11.5,.1,2.9,12,.5,1.9,9.3,-.3,2.3,8,-.3,1.3,7.5,-1,-2.3,8.2,.3,-3.9,6.6,.1,-11,7.2,.9,-9.7,6.6,.7,-10.2,6.1,.9,-6.9,5.9,-.3,-5,5.9,-1,-7.7,4.5,.7,-1.8,5.2,.7,6.6,7.8,.7,9.5,8.2,.7,8.6,11.9,.3,9.8,12.4,-1,11.5,12.8,.1,14.8,12.1,-1,16.6,6.5,.3,18.4,4.6,.3,18.1,3.7,.3,15.8,3.5,.5,11.4,3.6,.7,23.4,4.8,.5,25,5.1,.5,30.3,19.2,-1,32.3,15.7,-1,33.4,13.5,-1,34.8,11.4,-1,34.2,11.8,-.8,31.5,9.6,-1,34.7,8.3,.5,37.4,8.3,.1,36.5,7.7,-1,39.9,9,-1,40.8,11.6,-1,42.4,3.9,-1,45,4.6,-1,45.4,3.8,-1,42.1,2.4,-.5,44.8,2,-1,42.5,.3,-1,15.5,-4,.3,38.4,-6.7,.3,29.2,-9.5,-1,30.8,-10.1,-.5,32.1,-9.9,.5,31,-10.9,.7,33.7,-11,-.5,34,-12.8,.5,38.8,-12.5,.7,27.9,-13.2,.9,24.1,-13.6,.1,26.1,-13.6,.5,22.5,-14.9,.5,23,-16,.3,25.8,-15.6,.5,27.4,-15.5,-.8,27.9,-15.7,-1,26.8,-14.3,.7,30.3,-15.6,.3,24.1,-17.4,.5,29.2,-17.4,.5,19.5,-17.8,.1,13.9,-17.4,.7,31.7,-19.1,.7,13.4,-19.2,-1,15.2,-20.5,-1,13.5,-21,-1,23.2,-20,-1,14.5,-23.3,-1,15,-23.6,-1,18.3,-24.4,-1,27.7,-21.7,.3,28.5,-23.1,.5,30,-22.2,.7,31.2,-23.8,.7,27.3,-24.8,.3,29.2,-25.2,.5,31.8,-25.5,.5,33.4,-24.8,.5,31.5,-26.7,.5,28.4,-27.4,.7,17.7,-26.2,.3,17.4,-27.2,.3,17.4,-28.8,.5,18.8,-28.8,.5,20.5,-28.6,.5,21.9,-29,.5,22.7,-29.7,.5,24.2,-28.8,.5,25.7,-27.8,.5,24.5,-30.6,.7,26.8,-29.7,.5,28.2,-29.9,.7,30.1,-28.6,-.1,31.6,-29.3,.3,18.5,-31.7,.3,20.5,-31.1,-1,25.4,-31.9,-1,21.5,-33.6,-.8,24.3,-33.3,.3,26.9,-33.4,.5,25.8,-33.3,-.3];

const NS='http://www.w3.org/2000/svg';
const xLon=lon=>96+(lon+180)*(1860/360);
const yLat=lat=>831-(lat+60)*(775/150);
const xCbar=v=>323.3+(v+1)*(1802.3-323.3)/2;
function binColor(v){
  for(let i=cbarColors.length-1;i>=0;i--){if(v>=cbarTicks[i])return cbarColors[i];}
  return cbarColors[0];
}
function pts(a){let s='';for(let i=0;i+1<a.length;i+=2)s+=xLon(a[i]).toFixed(1)+','+yLat(a[i+1]).toFixed(1)+' ';return s;}
function mk(tag,parent,attrs){const el=document.createElementNS(NS,tag);for(const k in attrs)el.setAttribute(k,attrs[k]);parent.appendChild(el);return el;}
const landFill=document.getElementById('landFill'),waterFill=document.getElementById('waterFill'),islandFill=document.getElementById('islandFill'),coastLayer=document.getElementById('coastLayer');
function addShape(arr,fillParent,name){
  const f=mk('polygon',fillParent,{points:pts(arr)});
  
  
  const c=mk('polygon',coastLayer,{points:pts(arr)});
  
  
}
addShape(americas,landFill,'americas');
addShape(afroEurasia,landFill,'afro-eurasia');
addShape(australia,landFill,'australia');
addShape(greenland,landFill,'greenland');
addShape(mediterranean,waterFill,'mediterranean-sea');
addShape(blackSea,waterFill,'black-sea');
addShape(caspianSea,waterFill,'caspian-sea');
addShape(balticSea,waterFill,'baltic-sea');
addShape(islandBaffin,islandFill,'baffin-island');
addShape(islandVictoria,islandFill,'victoria-island');
addShape(islandEllesmere,islandFill,'ellesmere-island');
for(const group of [arcticMinor,atlanticIslands,europeIslands,asiaIslands,indonesiaIslands]){
  for(const isl of group){addShape(isl,islandFill,'island');}
}
const stationsLayer=document.getElementById('stationsLayer');
const stationGroups=[stationsAlaskaYukon,stationsCanada,stationsUsWest,stationsUsCentral,stationsUsDense,stationsSouthAmericaNorth,stationsAmazonDense,stationsSouthAmericaSouth,stationsEurope,stationsEuropeDense,stationsWestAsia,stationsEastAsia,stationsOceania,stationsAfrica];
for(const g of stationGroups){
  for(let i=0;i+2<g.length;i+=3){
    const el=mk('circle',stationsLayer,{cx:xLon(g[i]).toFixed(1),cy:yLat(g[i+1]).toFixed(1),r:5.6,fill:binColor(g[i+2]),stroke:'#222','stroke-width':0.7,'stroke-opacity':0.75});
    
    
  }
}
const gridLayer=document.getElementById('gridLayer'),tickLabels=document.getElementById('tickLabels');
lonTicks.forEach((lon,i)=>{
  if(i>0&&i<lonTicks.length-1){
    const l=mk('line',gridLayer,{x1:xLon(lon),x2:xLon(lon),y1:yLat(-60),y2:yLat(90)});
    
    
  }
  const t=mk('text',tickLabels,{x:xLon(lon)+(i>0&&i<lonTicks.length-1?2:0),y:867,'text-anchor':'middle'});
  t.textContent=lonLabels[i];
  
  
});
latTicks.forEach((lat,i)=>{
  if(i>0&&i<latTicks.length-1){
    const l=mk('line',gridLayer,{x1:xLon(-180),x2:xLon(180),y1:yLat(lat),y2:yLat(lat)});
    
    
  }
  const t=mk('text',tickLabels,{x:84,y:yLat(lat)+8,'text-anchor':'end'});
  t.textContent=latLabels[i];
  
  
});
const cb=document.getElementById('colorbar');
const cbTop=889,cbBot=913.5;
const arrow=mk('polygon',cb,{points:`${xCbar(-1)},${cbTop} ${xCbar(-1)},${cbBot} 249.5,901`,fill:cbarColors[0],stroke:'#000','stroke-width':1.2});


cbarColors.forEach((c,i)=>{
  const x0=xCbar(cbarTicks[i]),x1=xCbar(cbarTicks[i+1]);
  const r=mk('rect',cb,{x:x0,y:cbTop,width:x1-x0+0.4,height:cbBot-cbTop,fill:c});
  
  
});
const outline=mk('polyline',cb,{points:`${xCbar(-1)},${cbBot} ${xCbar(1)},${cbBot} ${xCbar(1)},${cbTop} ${xCbar(-1)},${cbTop}`,fill:'none',stroke:'#000','stroke-width':1.5});


cbarTicks.forEach((v,i)=>{
  const l=mk('line',cb,{x1:xCbar(v),x2:xCbar(v),y1:897,y2:cbBot,stroke:'#000','stroke-width':1.5});
  
  
  const t=mk('text',cb,{x:xCbar(v),y:950,'text-anchor':'middle','font-size':23.6});
  t.textContent=cbarLabels[i];
  
  
});
</script>
</body></html>
